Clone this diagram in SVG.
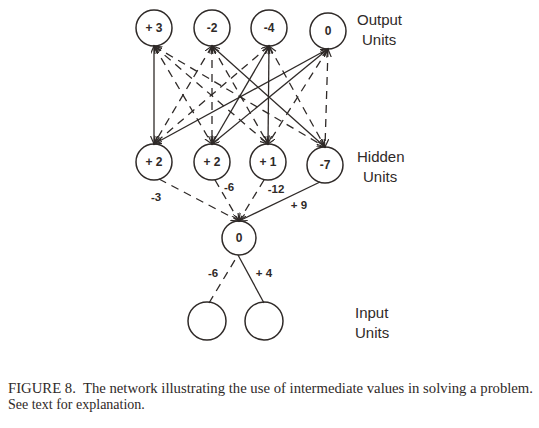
<svg xmlns="http://www.w3.org/2000/svg" width="539" height="428" viewBox="0 0 539 428">
<style>
.n{fill:none;stroke:#2f2a28;stroke-width:1.5}
.l{font-family:"Liberation Sans",Arial,sans-serif;font-size:12px;font-weight:bold;fill:#2f2a28;text-anchor:middle}
.w{font-family:"Liberation Sans",Arial,sans-serif;font-size:11.5px;font-weight:bold;fill:#2f2a28;text-anchor:middle}
.t{font-family:"Liberation Sans",Arial,sans-serif;font-size:15px;fill:#2f2a28}
.c{font-family:"Liberation Serif","Times New Roman",serif;font-size:14px;fill:#2f2a28}
.s{stroke:#2f2a28;stroke-width:1.3;fill:none}
.d{stroke:#2f2a28;stroke-width:1.3;fill:none;stroke-dasharray:8 6}
.a{marker-start:url(#ah);marker-end:url(#ah)}
.e{marker-end:url(#ah)}
</style>
<defs>
<marker id="ah" markerUnits="userSpaceOnUse" markerWidth="10" markerHeight="8" refX="8" refY="3.5" orient="auto-start-reverse">
<path d="M0,0 L8,3.5 L0,7" fill="none" stroke="#2f2a28" stroke-width="1.2"/>
</marker>
</defs>
<rect width="539" height="428" fill="#ffffff"/>
<g id="connectors">
<line class="s a" x1="154" y1="46" x2="154" y2="144"/>
<line class="d a" x1="154" y1="46" x2="212" y2="144"/>
<line class="d a" x1="154" y1="46" x2="268" y2="144"/>
<line class="d a" x1="154" y1="46" x2="325" y2="147"/>
<line class="d a" x1="212" y1="46" x2="154" y2="144"/>
<line class="d a" x1="212" y1="46" x2="212" y2="144"/>
<line class="d a" x1="212" y1="46" x2="268" y2="144"/>
<line class="s a" x1="212" y1="46" x2="325" y2="147"/>
<line class="d a" x1="269" y1="46" x2="154" y2="144"/>
<line class="s a" x1="269" y1="46" x2="212" y2="144"/>
<line class="s a" x1="269" y1="46" x2="268" y2="144"/>
<line class="d a" x1="269" y1="46" x2="325" y2="147"/>
<line class="s a" x1="328" y1="49" x2="154" y2="144"/>
<line class="s a" x1="328" y1="49" x2="212" y2="144"/>
<line class="d a" x1="328" y1="49" x2="268" y2="144"/>
<line class="d a" x1="328" y1="49" x2="325" y2="147"/>
<line class="d e" x1="159" y1="179" x2="239" y2="221"/>
<line class="d e" x1="215" y1="180" x2="239" y2="221"/>
<line class="d e" x1="264" y1="180" x2="239" y2="221"/>
<line class="s e" x1="320" y1="182" x2="239" y2="221"/>
<line class="d" x1="209" y1="303" x2="238" y2="255"/>
<line class="s" x1="264" y1="303" x2="238" y2="255"/>
</g>
<g id="out1"><circle class="n" cx="154" cy="28" r="18"/><text class="l" x="154" y="32">+ 3</text></g>
<g id="out2"><circle class="n" cx="212" cy="28" r="18"/><text class="l" x="212" y="32">-2</text></g>
<g id="out3"><circle class="n" cx="269" cy="28" r="18"/><text class="l" x="269" y="32">-4</text></g>
<g id="out4"><circle class="n" cx="328" cy="31" r="18"/><text class="l" x="328" y="35">0</text></g>
<g id="hid1"><circle class="n" cx="154" cy="162" r="18"/><text class="l" x="154" y="166">+ 2</text></g>
<g id="hid2"><circle class="n" cx="212" cy="162" r="18"/><text class="l" x="212" y="166">+ 2</text></g>
<g id="hid3"><circle class="n" cx="268" cy="162" r="18"/><text class="l" x="268" y="166">+ 1</text></g>
<g id="hid4"><circle class="n" cx="325" cy="165" r="18"/><text class="l" x="325" y="169">-7</text></g>
<g id="mid"><circle class="n" cx="239" cy="238" r="17"/><text class="l" x="239" y="242">0</text></g>
<g id="in1"><circle class="n" cx="207" cy="321" r="19"/></g>
<g id="in2"><circle class="n" cx="264" cy="321" r="19"/></g>
<g id="weights">
<text class="w" x="156" y="201">-3</text>
<text class="w" x="229" y="191">-6</text>
<text class="w" x="276" y="193">-12</text>
<text class="w" x="299" y="209">+ 9</text>
<text class="w" x="213" y="277">-6</text>
<text class="w" x="264" y="277">+ 4</text>
</g>
<g id="layer-labels">
<text class="t" x="357" y="25">Output</text>
<text class="t" x="362" y="45">Units</text>
<text class="t" x="357" y="162">Hidden</text>
<text class="t" x="363" y="182">Units</text>
<text class="t" x="355" y="318">Input</text>
<text class="t" x="355" y="338">Units</text>
</g>
<g id="caption">
<text class="c" x="8" y="393" textLength="525" lengthAdjust="spacingAndGlyphs">FIGURE 8.&#160; The network illustrating the use of intermediate values in solving a problem.</text>
<text class="c" x="8" y="409">See text for explanation.</text>
</g>
</svg>
